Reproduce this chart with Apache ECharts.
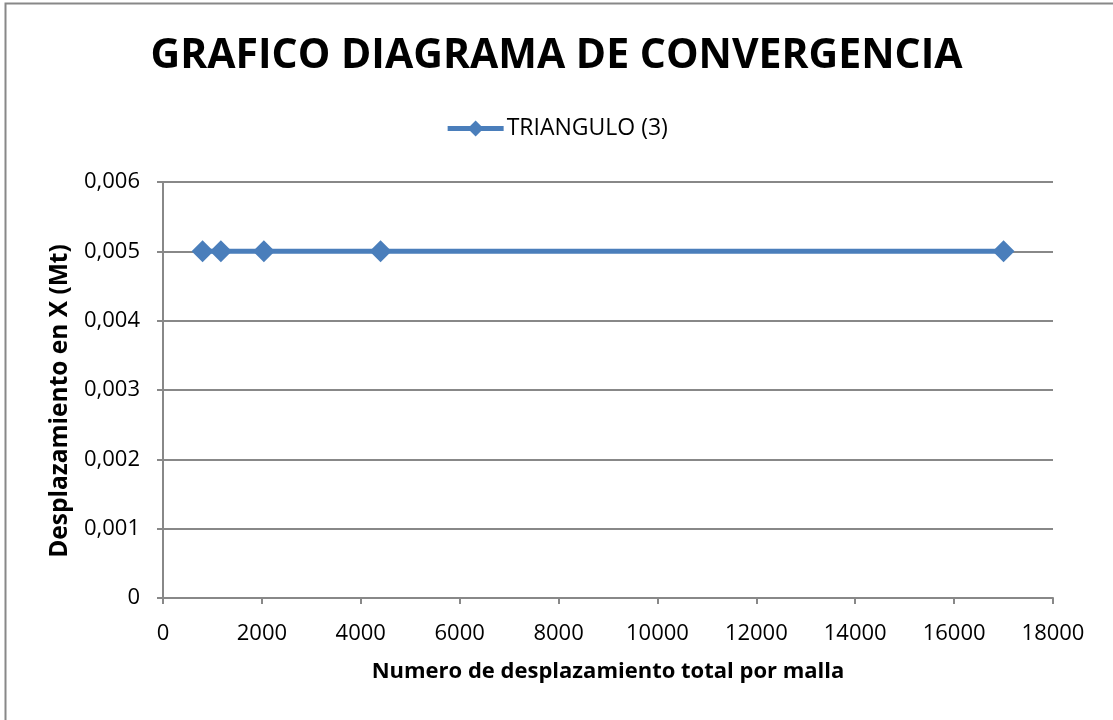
<!DOCTYPE html>
<html>
<head>
<meta charset="utf-8">
<script src="https://cdn.jsdelivr.net/npm/echarts@6/dist/echarts.min.js"></script>
<style>
  html, body { margin: 0; padding: 0; background: #fff; }
  #main { width: 1113px; height: 720px; }
</style>
</head>
<body>
<div id="main"></div>
<script>
// datos
var mallas = [800, 1170, 2040, 4400, 17000];
var desplazamiento = [0.005, 0.005, 0.005, 0.005, 0.005];
var serieNombre = 'TRIANGULO (3)';

var font = 'Open Sans';

var option = {
    backgroundColor: '#fff',
    animation: false,
    title: {
        text: 'GRAFICO DIAGRAMA DE CONVERGENCIA',
        left: 'center',
        top: 31,
        textStyle: {
            fontFamily: font,
            fontWeight: 'bold',
            fontSize: 41,
            color: '#000'
        }
    },
    legend: {
        top: 112,
        left: 'center',
        itemWidth: 56,
        itemHeight: 20,
        itemGap: 4,
        lineStyle: { width: 5 },
        textStyle: { fontFamily: font, fontSize: 23, color: '#000', padding: [0, 0, 0, -2] },
        data: [serieNombre]
    },
    graphic: [{
        type: 'rect',
        shape: { x: 5.5, y: 3.5, width: 1120, height: 730 },
        style: { fill: 'none', stroke: '#888', lineWidth: 2 },
        silent: true
    }],
    grid: {
        left: 163,
        right: 60,
        top: 182,
        bottom: 122
    },
    xAxis: {
        type: 'value',
        min: 0,
        max: 18000,
        interval: 2000,
        name: 'Numero de desplazamiento total por malla',
        nameLocation: 'middle',
        nameGap: 63,
        nameTextStyle: { fontFamily: font, fontWeight: 'bold', fontSize: 22, color: '#000' },
        axisLine: { lineStyle: { color: '#888', width: 2 } },
        axisTick: { show: true, length: 6, inside: false, lineStyle: { color: '#888', width: 2 } },
        axisLabel: {
            fontFamily: font, fontSize: 22, color: '#000', margin: 25,
            formatter: function (v) { return String(v); }
        },
        splitLine: { show: false }
    },
    yAxis: {
        type: 'value',
        min: 0,
        max: 0.006,
        interval: 0.001,
        name: 'Desplazamiento en X (Mt)',
        nameLocation: 'middle',
        nameRotate: 90,
        nameGap: 90,
        nameTextStyle: {
            fontFamily: font, fontWeight: 'bold', fontSize: 24.5, color: '#000',
            padding: [0, 22, 0, 0]
        },
        axisLine: { show: true, lineStyle: { color: '#888', width: 2 } },
        axisTick: { show: true, length: 6, lineStyle: { color: '#888', width: 2 } },
        axisLabel: {
            fontFamily: font,
            fontSize: 22,
            color: '#000',
            margin: 23,
            formatter: function (v) {
                if (v === 0) return '0';
                return v.toFixed(3).replace('.', ',');
            }
        },
        splitLine: { show: true, lineStyle: { color: '#888', width: 2 } }
    },
    series: [{
        name: serieNombre,
        type: 'line',
        data: mallas.map(function (m, i) { return [m, desplazamiento[i]]; }),
        symbol: 'diamond',
        symbolSize: 22,
        lineStyle: { color: '#4A7EBB', width: 5 },
        itemStyle: { color: '#4A7EBB' }
    }]
};

var myChart = echarts.init(document.getElementById('main'));
myChart.setOption(option);
</script>
</body>
</html>
